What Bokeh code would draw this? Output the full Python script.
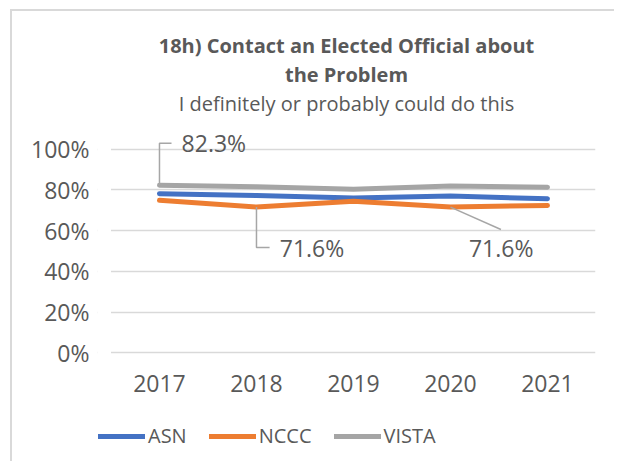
from bokeh.plotting import figure
from bokeh.models import (ColumnDataSource, FixedTicker, Title, Legend, LegendItem,
                          Range1d, PrintfTickFormatter, BoxAnnotation)
from bokeh.core.properties import value
from bokeh.embed import file_html
from bokeh.resources import INLINE

years = ["2017", "2018", "2019", "2020", "2021"]
asn = [78.2, 77.3, 76.0, 77.0, 75.7]
nccc = [74.9, 71.6, 74.5, 71.6, 72.4]
vista = [82.3, 81.6, 80.3, 81.9, 81.4]
y_ticks = [0, 20, 40, 60, 80, 100]

FONT = "Open Sans"
TXT = "#595959"
LEAD = "#A6A6A6"
BORDER = "#D9D9D9"

xs = list(range(len(years)))

bg = (f"linear-gradient({BORDER},{BORDER}) 10px 9px / 100% 2px no-repeat, "
      f"linear-gradient({BORDER},{BORDER}) 10px 9px / 2px 100% no-repeat, white")

p = figure(width=614, height=461, output_backend="svg", toolbar_location=None,
           x_range=Range1d(-0.639, 4.495), y_range=Range1d(-53.4, 116.1),
           min_border_left=97, min_border_right=19, min_border_top=0,
           min_border_bottom=0, outline_line_color=None,
           border_fill_color=None, styles={"background": bg})
p.title.visible = False

# titles (last added is topmost)
p.add_layout(Title(text="I definitely or probably could do this", align="center",
                   text_font=FONT, text_font_size="20px", text_font_style="normal",
                   text_color=TXT, standoff=0), "above")
p.add_layout(Title(text="the Problem", align="center", text_font=FONT,
                   text_font_size="20px", text_font_style="bold", text_color=TXT,
                   standoff=0), "above")
p.add_layout(Title(text="18h) Contact an Elected Official about", align="center",
                   text_font=FONT, text_font_size="20px", text_font_style="bold",
                   text_color=TXT, standoff=0), "above")
p.add_layout(Title(text="\u00a0", align="center", text_font=FONT,
                   text_font_size="20px", standoff=0), "above")

# keep gridlines within the category band (plot area starts at x = -0.5)
p.add_layout(BoxAnnotation(right=-0.5, bottom=-2, top=102, fill_color="white",
                           fill_alpha=1, line_color=None))

src = ColumnDataSource(dict(x=xs, asn=asn, nccc=nccc, vista=vista))
r1 = p.line("x", "asn", source=src, line_color="#4472C4", line_width=5, line_cap="round")
r2 = p.line("x", "nccc", source=src, line_color="#ED7D31", line_width=5, line_cap="round")
r3 = p.line("x", "vista", source=src, line_color="#A5A5A5", line_width=5, line_cap="round")

# data labels with leader lines (offsets are layout only)
def label(xi, yv, lead_x, lead_y, text_dx, text_dy, elbow=True):
    ty = yv + text_dy
    if elbow:
        p.line([xi, xi, xi + lead_x], [yv, ty, ty], line_color=LEAD, line_width=1.5)
    else:
        p.line([xi, xi + lead_x], [yv, yv + lead_y], line_color=LEAD, line_width=1.5)
    p.text([xi + text_dx], [ty], text=[f"{yv:.1f}%"], text_font=value(FONT),
           text_font_size="23px", text_color=TXT, text_align="left",
           text_baseline="middle")

label(xs[0], vista[0], 0.124, 0, 0.228, 20.7)
label(xs[1], nccc[1], 0.135, 0, 0.24, -19.9)
label(xs[3], nccc[3], 0.52, -11.0, 0.19, -19.9, elbow=False)

# axes
p.yaxis.ticker = FixedTicker(ticks=y_ticks)
p.yaxis.formatter = PrintfTickFormatter(format="%d%%")
p.xaxis.ticker = FixedTicker(ticks=xs)
p.xaxis.major_label_overrides = {i: y for i, y in zip(xs, years)}
p.xaxis.fixed_location = 0
for ax in (p.xaxis[0], p.yaxis[0]):
    ax.axis_line_color = None
    ax.major_tick_line_color = None
    ax.minor_tick_line_color = None
    ax.major_label_text_font = FONT
    ax.major_label_text_font_size = "23px"
    ax.major_label_text_color = TXT
p.yaxis.major_label_standoff = 2
p.xaxis.major_label_standoff = 16
p.xgrid.grid_line_color = None
yg = p.ygrid[0]
yg.grid_line_color = BORDER
yg.grid_line_width = 1.5

legend = Legend(items=[LegendItem(label="ASN", renderers=[r1]),
                       LegendItem(label="NCCC", renderers=[r2]),
                       LegendItem(label="VISTA", renderers=[r3])],
                orientation="horizontal", location=(1, 12),
                label_text_font=FONT, label_text_font_size="20px",
                label_text_color=TXT, glyph_width=47, label_standoff=3,
                spacing=22, border_line_color=None, background_fill_alpha=0,
                margin=0, padding=0)
p.add_layout(legend)

open("out.html", "w").write(file_html(p, INLINE))
